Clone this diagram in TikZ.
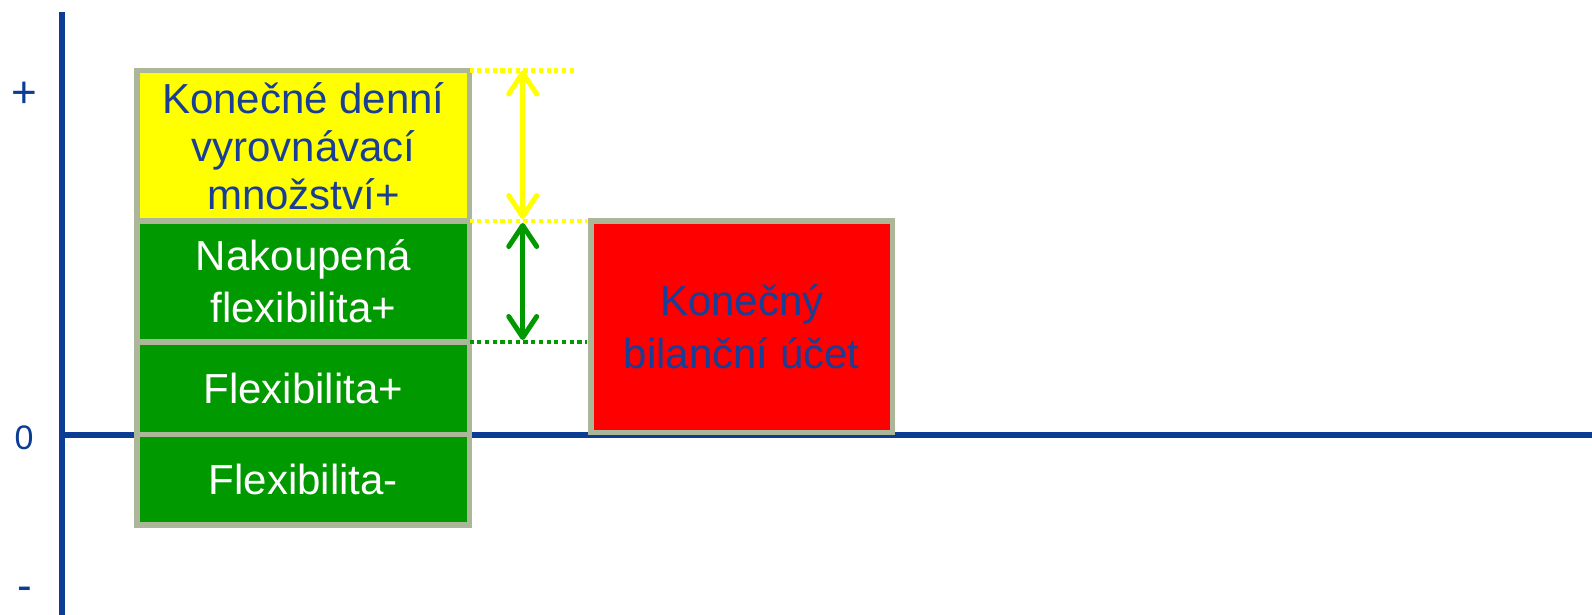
\documentclass[tikz,border=0pt]{standalone}
\usepackage{fontspec}
\setmainfont{Liberation Sans}
\usetikzlibrary{arrows.meta}
\definecolor{axisblue}{RGB}{12,61,148}
\definecolor{txtblue}{RGB}{24,62,150}
\definecolor{boxgreen}{RGB}{0,153,0}
\definecolor{boxyellow}{RGB}{255,255,0}
\definecolor{boxred}{RGB}{255,0,0}
\definecolor{boxborder}{RGB}{172,182,152}
\begin{document}
\begin{tikzpicture}[x=1pt,y=-1pt,
  box/.style={draw=boxborder, line width=5.8pt, rectangle, inner sep=0pt, outer sep=0pt,
    align=center, font=\fontsize{42}{49}\selectfont},
  axis/.style={draw=axisblue, line width=6pt},
  dots/.style={line width=4.2pt, dash pattern=on 4.2pt off 3.5pt},
  dimarrow/.style={line width=5.2pt,
    {Straight Barb[length=21pt,width=28pt,line width=5pt,round]}-{Straight Barb[length=21pt,width=28pt,line width=5pt,round]}},
  axlabel/.style={text=axisblue, inner sep=0pt, anchor=base}
]
\useasboundingbox (0,0) rectangle (1592,615);
% axes
\coordinate (vtop) at (62,12);
\coordinate (vbot) at (62,615);
\coordinate (origin) at (62,434.5);
\coordinate (hend) at (1592,434.5);
\draw[axis] (vtop) -- (vbot);
\draw[axis] (origin) -- (hend);
% axis labels
\node[axlabel, font=\fontsize{44}{44}\selectfont] (lplus) at (24,107.2) {+};
\node[axlabel, font=\fontsize{34}{34}\selectfont] (lzero) at (24,449) {0};
\node[axlabel, font=\fontsize{44}{44}\selectfont] (lminus) at (24.5,600.5) {-};
% stacked boxes
\node[box, fill=boxyellow, text=txtblue, minimum width=332.2pt, minimum height=150.5pt,
  font=\fontsize{42}{48}\selectfont]
  (yel) at (303.4,145.75) {Konečné denní\\vyrovnávací\\množství+};
\node[box, fill=boxgreen, text=white, minimum width=332.2pt, minimum height=121pt,
  font=\fontsize{42}{52}\selectfont]
  (g1) at (303.4,281.5) {Nakoupená\\flexibilita+};
\node[box, fill=boxgreen, text=white, minimum width=332.2pt, minimum height=92.5pt]
  (g2) at (303.4,388.25) {Flexibilita+};
\node[box, fill=boxgreen, text=white, minimum width=332.2pt, minimum height=90.5pt]
  (g3) at (303.4,479.75) {Flexibilita-};
% red box
\node[box, fill=boxred, text=txtblue, minimum width=301.5pt, minimum height=211.5pt,
  font=\fontsize{42}{53}\selectfont]
  (red) at (741.75,326.75) {Konečný\\bilanční účet};
% dotted guide lines
\coordinate (ytopend) at (575,70.5);
\coordinate (ymidend) at (587,221);
\coordinate (gend) at (587,342);
\draw[dots, draw=boxyellow] (yel.north east) -- (ytopend);
\draw[dots, draw=boxyellow] (yel.south east) -- (ymidend);
\draw[dots, draw=boxgreen] (g1.south east) -- (gend);
% dimension arrows
\coordinate (ya) at (522.7,70.5);
\coordinate (yb) at (522.7,219);
\coordinate (gb) at (522.7,223);
\coordinate (gc) at (522.7,340);
\draw[dimarrow, draw=boxyellow] (ya) -- (yb);
\draw[dimarrow, draw=boxgreen] (gb) -- (gc);
\end{tikzpicture}
\end{document}
